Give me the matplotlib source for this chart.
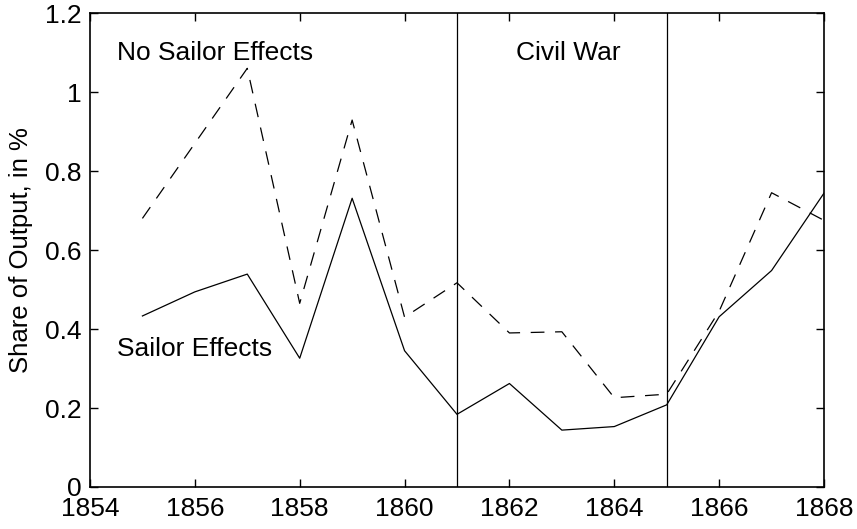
import matplotlib.pyplot as plt

years = [1855, 1856, 1857, 1858, 1859, 1860, 1861, 1862, 1863, 1864, 1865, 1866, 1867, 1868]
sailor = [0.433, 0.494, 0.539, 0.326, 0.731, 0.345, 0.184, 0.262, 0.144, 0.153, 0.208, 0.431, 0.548, 0.744]
no_sailor = [0.680, 0.870, 1.060, 0.465, 0.929, 0.430, 0.517, 0.390, 0.393, 0.226, 0.235, 0.445, 0.745, 0.675]
war_bounds = [1861, 1865]

plt.rcParams['font.family'] = ['Liberation Sans', 'DejaVu Sans']

fig = plt.figure(figsize=(8.57, 5.29), dpi=100)
ax = fig.add_axes([0.105, 0.0794, 0.8565, 0.896])

ax.plot(years, sailor, color='black', lw=0.9)
ax.plot(years, no_sailor, color='black', lw=0.9, dashes=[11, 8.5])
for b in war_bounds:
    ax.axvline(b, color='black', lw=0.9)

ax.text(1854.515, 1.10, 'No Sailor Effects', fontsize=19, va='center')
ax.text(1863.12, 1.10, 'Civil War', fontsize=19, va='center', ha='center')
ax.text(1854.515, 0.349, 'Sailor Effects', fontsize=19, va='center')

ax.set_xlim(1854, 1868)
ax.set_ylim(0, 1.2)
ax.set_xticks(range(1854, 1869, 2))
ax.set_yticks([0, 0.2, 0.4, 0.6, 0.8, 1.0, 1.2])
ax.set_yticklabels(['0', '0.2', '0.4', '0.6', '0.8', '1', '1.2'])
ax.tick_params(direction='in', top=True, right=True, labelsize=19, length=6, width=1)
ax.tick_params(axis='x', pad=7)
ax.tick_params(axis='y', pad=6)
ax.set_ylabel('Share of Output, in %', fontsize=18.5)
ax.yaxis.set_label_coords(-0.078, 0.5)
for s in ax.spines.values():
    s.set_linewidth(1.2)

fig.savefig('out.png', dpi=100)
